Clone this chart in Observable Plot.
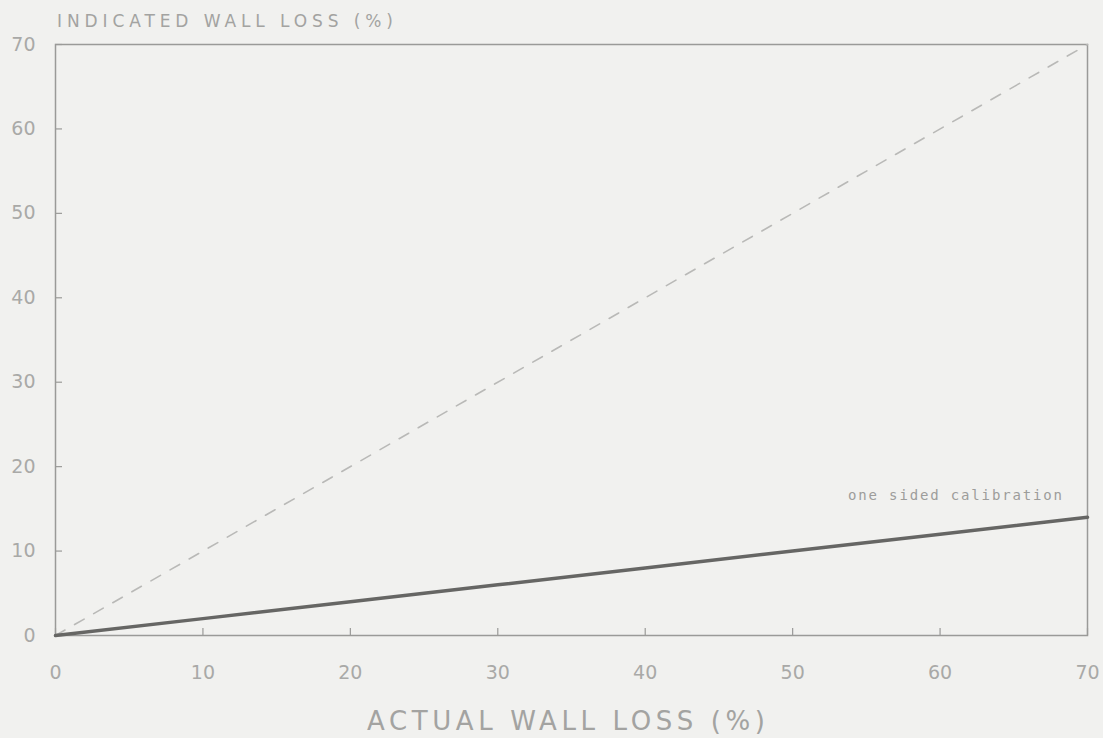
<!DOCTYPE html>
<html>
<head>
<meta charset="utf-8">
<script src="https://cdn.jsdelivr.net/npm/d3@7"></script>
<script src="https://cdn.jsdelivr.net/npm/@observablehq/plot@0.6"></script>
<style>
  html, body { margin: 0; padding: 0; background: #f1f1ef; }
  #chart { position: relative; width: 1103px; height: 738px; }
  svg { font-family: "DejaVu Sans", sans-serif; }
</style>
</head>
<body>
<div id="chart"></div>
<script>
// Axis ticks (percent wall loss)
const xTicks = [0, 10, 20, 30, 40, 50, 60, 70];
const yTicks = [0, 10, 20, 30, 40, 50, 60, 70];

// Ideal response: indicated = actual
const idealActual = [0, 70];
const idealIndicated = [0, 70];

// One sided calibration response
const calActual = [0, 10, 20, 30, 40, 50, 60, 70];
const calIndicated = [0, 2, 4, 6, 8, 10, 12, 14];

const calLabel = "one sided calibration";
const xLabel = "ACTUAL WALL LOSS (%)";
const yLabel = "INDICATED WALL LOSS (%)";

const ideal = idealActual.map((x, i) => ({x, y: idealIndicated[i]}));
const cal = calActual.map((x, i) => ({x, y: calIndicated[i]}));

const W = 1103, H = 738;
const mTop = 44, mBottom = 103, mLeft = 55, mRight = 16;
const frameH = H - mTop - mBottom;
const frameW = W - mLeft - mRight;
const tickLen = 7;

const ink = "#a9a9a7";

const chart = Plot.plot({
  width: W,
  height: H,
  marginTop: mTop,
  marginBottom: mBottom,
  marginLeft: mLeft,
  marginRight: mRight,
  style: {background: "#f1f1ef", color: ink, fontSize: "18px"},
  x: {domain: [0, 70], ticks: xTicks},
  y: {domain: [0, 70], ticks: yTicks},
  marks: [
    Plot.frame({stroke: "#9a9a98", strokeWidth: 1.5}),
    // inward tick marks
    Plot.ruleX(xTicks, {x: d => d, insetTop: frameH - tickLen, stroke: "#9a9a98", strokeWidth: 1.2}),
    Plot.ruleY(yTicks, {y: d => d, insetRight: frameW - tickLen, stroke: "#9a9a98", strokeWidth: 1.2}),
    Plot.axisX({ticks: xTicks, tickSize: 0, tickPadding: 30, label: null, fill: ink, fontSize: 19}),
    Plot.axisY({ticks: yTicks, tickSize: 0, tickPadding: 20, label: null, fill: ink, fontSize: 19}),
    // ideal 1:1 line
    Plot.line(ideal, {x: "x", y: "y", stroke: "#b9b9b7", strokeWidth: 1.6, strokeDasharray: "11,11"}),
    // calibration curve
    Plot.line(cal, {x: "x", y: "y", stroke: "#666664", strokeWidth: 3.5})
  ]
});

const svg = d3.select(chart);

// curve annotation in a plotter-like monospaced face
svg.append("text")
  .attr("x", 848).attr("y", 500)
  .attr("text-anchor", "start")
  .attr("font-family", "'DejaVu Sans Mono', monospace")
  .attr("fill", "#9d9d9b")
  .attr("font-size", 14)
  .attr("textLength", 214)
  .attr("lengthAdjust", "spacing")
  .text(calLabel);

// axis titles
svg.append("text")
  .attr("x", 57).attr("y", 27)
  .attr("text-anchor", "start")
  .attr("fill", "#a3a3a1")
  .attr("font-size", 17)
  .attr("textLength", 336)
  .attr("lengthAdjust", "spacing")
  .text(yLabel);
svg.append("text")
  .attr("x", 367).attr("y", 730)
  .attr("text-anchor", "start")
  .attr("fill", "#a3a3a1")
  .attr("font-size", 26)
  .attr("textLength", 398)
  .attr("lengthAdjust", "spacing")
  .text(xLabel);

document.getElementById("chart").appendChild(chart);
</script>
</body>
</html>
